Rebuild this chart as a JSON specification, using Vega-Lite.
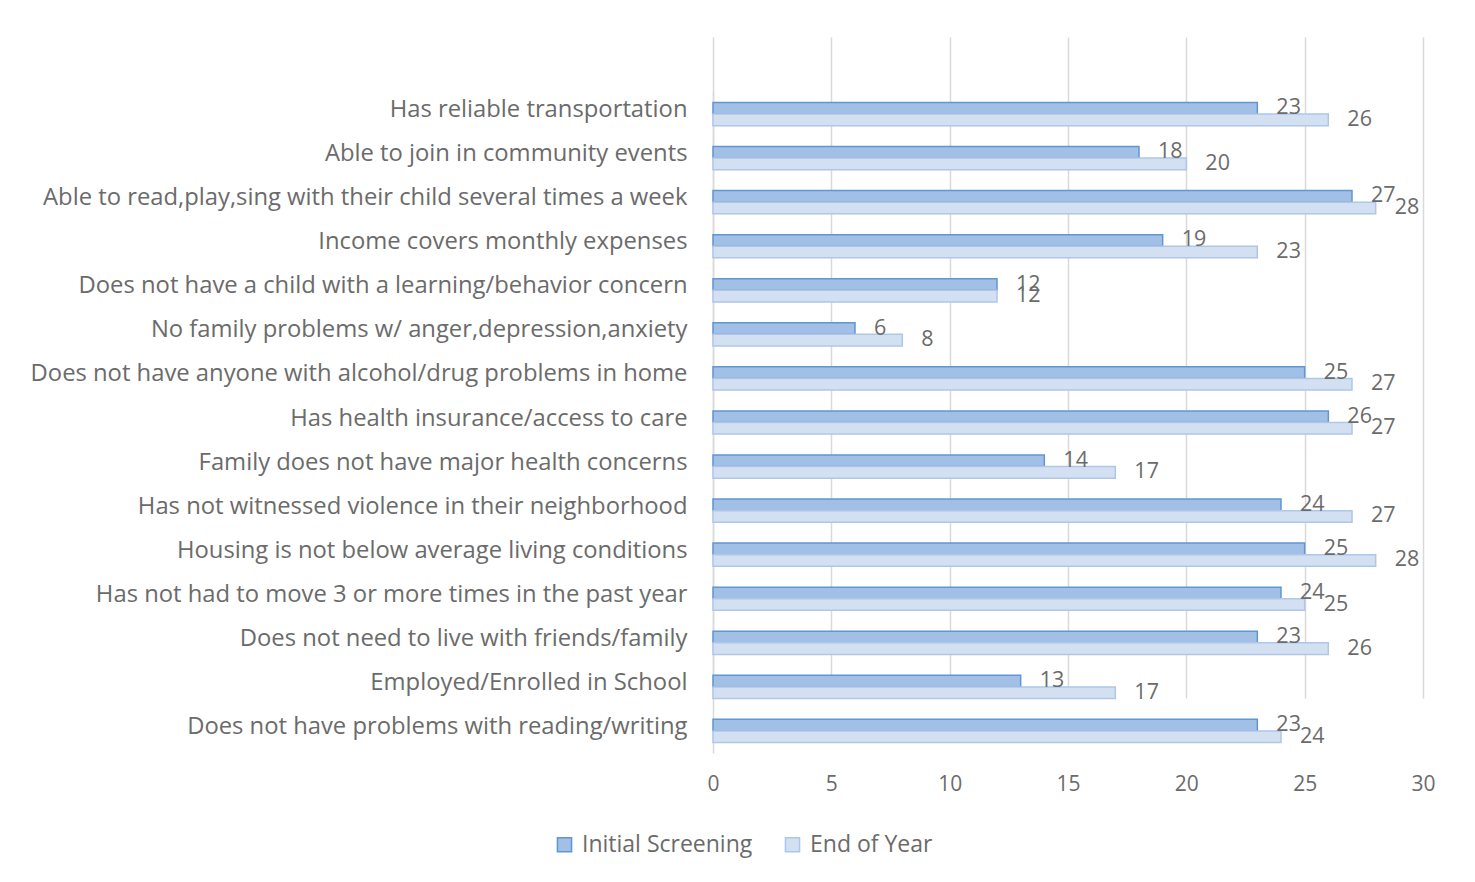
{
  "$schema": "https://vega.github.io/schema/vega-lite/v6.json",
  "autosize": "none",
  "padding": {"left": 713, "top": 42, "right": 52, "bottom": 134},
  "width": 710,
  "height": 706,
  "background": "white",
  "config": {
    "font": "Open Sans",
    "view": {"stroke": null},
    "text": {"font": "Open Sans"}
  },
  "data": {
    "values": [
      {"item": "Has reliable transportation", "series": "Initial Screening", "value": 23},
      {"item": "Has reliable transportation", "series": "End of Year", "value": 26},
      {"item": "Able to join in community events", "series": "Initial Screening", "value": 18},
      {"item": "Able to join in community events", "series": "End of Year", "value": 20},
      {"item": "Able to read,play,sing with their child several times a week", "series": "Initial Screening", "value": 27},
      {"item": "Able to read,play,sing with their child several times a week", "series": "End of Year", "value": 28},
      {"item": "Income covers monthly expenses", "series": "Initial Screening", "value": 19},
      {"item": "Income covers monthly expenses", "series": "End of Year", "value": 23},
      {"item": "Does not have a child with a learning/behavior concern", "series": "Initial Screening", "value": 12},
      {"item": "Does not have a child with a learning/behavior concern", "series": "End of Year", "value": 12},
      {"item": "No family problems w/ anger,depression,anxiety", "series": "Initial Screening", "value": 6},
      {"item": "No family problems w/ anger,depression,anxiety", "series": "End of Year", "value": 8},
      {"item": "Does not have anyone with alcohol/drug problems in home", "series": "Initial Screening", "value": 25},
      {"item": "Does not have anyone with alcohol/drug problems in home", "series": "End of Year", "value": 27},
      {"item": "Has health insurance/access to care", "series": "Initial Screening", "value": 26},
      {"item": "Has health insurance/access to care", "series": "End of Year", "value": 27},
      {"item": "Family does not have major health concerns", "series": "Initial Screening", "value": 14},
      {"item": "Family does not have major health concerns", "series": "End of Year", "value": 17},
      {"item": "Has not witnessed violence in their neighborhood", "series": "Initial Screening", "value": 24},
      {"item": "Has not witnessed violence in their neighborhood", "series": "End of Year", "value": 27},
      {"item": "Housing is not below average living conditions", "series": "Initial Screening", "value": 25},
      {"item": "Housing is not below average living conditions", "series": "End of Year", "value": 28},
      {"item": "Has not had to move 3 or more times in the past year", "series": "Initial Screening", "value": 24},
      {"item": "Has not had to move 3 or more times in the past year", "series": "End of Year", "value": 25},
      {"item": "Does not need to live with friends/family", "series": "Initial Screening", "value": 23},
      {"item": "Does not need to live with friends/family", "series": "End of Year", "value": 26},
      {"item": "Employed/Enrolled in School", "series": "Initial Screening", "value": 13},
      {"item": "Employed/Enrolled in School", "series": "End of Year", "value": 17},
      {"item": "Does not have problems with reading/writing", "series": "Initial Screening", "value": 23},
      {"item": "Does not have problems with reading/writing", "series": "End of Year", "value": 24}
    ]
  },
  "encoding": {
    "y": {
      "field": "item",
      "type": "nominal",
      "sort": null,
      "scale": {"range": [50, 711], "paddingInner": 0, "paddingOuter": 0},
      "axis": {
        "title": null,
        "ticks": false,
        "domain": true,
        "domainColor": "#d9d9d9",
        "domainWidth": 1.5,
        "labelPadding": 26,
        "labelOffset": -4,
        "labelFontSize": 23.8,
        "labelColor": "#6b6b6b",
        "labelLimit": 900,
        "labelFont": "Open Sans"
      }
    },
    "x": {
      "field": "value",
      "type": "quantitative",
      "scale": {"domain": [0, 30], "nice": false},
      "axis": {
        "title": null,
        "values": [0, 5, 10, 15, 20, 25, 30],
        "grid": true,
        "gridColor": "#d9d9d9",
        "gridWidth": 1.5,
        "domain": false,
        "ticks": false,
        "labelFlush": false,
        "labelPadding": 25,
        "labelFontSize": 21,
        "labelColor": "#6b6b6b",
        "labelFont": "Open Sans"
      }
    },
    "yOffset": {
      "field": "series",
      "type": "nominal",
      "sort": ["Initial Screening", "End of Year"],
      "scale": {"paddingInner": 0, "paddingOuter": 0.9}
    }
  },
  "layer": [
    {
      "mark": {"type": "bar", "strokeWidth": 1.5},
      "encoding": {
        "color": {
          "field": "series",
          "type": "nominal",
          "sort": ["Initial Screening", "End of Year"],
          "scale": {"domain": ["Initial Screening", "End of Year"], "range": ["#a2bfe5", "#d3e0f2"]},
          "legend": {
            "title": null,
            "orient": "none",
            "legendX": -160,
            "legendY": 791,
            "direction": "horizontal",
            "symbolType": "square",
            "symbolSize": 200,
            "symbolStrokeWidth": 1.5,
            "labelFontSize": 23,
            "labelColor": "#6b6b6b",
            "labelFont": "Open Sans",
            "labelLimit": 400,
            "columnPadding": 28,
            "labelOffset": 6
          }
        },
        "stroke": {
          "field": "series",
          "type": "nominal",
          "sort": ["Initial Screening", "End of Year"],
          "scale": {"domain": ["Initial Screening", "End of Year"], "range": ["#5f97d3", "#afc6e8"]},
          "legend": null
        }
      }
    },
    {
      "mark": {"type": "text", "align": "left", "baseline": "middle", "dx": 19, "fontSize": 21.5, "color": "#6b6b6b", "font": "Open Sans"},
      "encoding": {
        "text": {"field": "value", "type": "quantitative"}
      }
    }
  ]
}
